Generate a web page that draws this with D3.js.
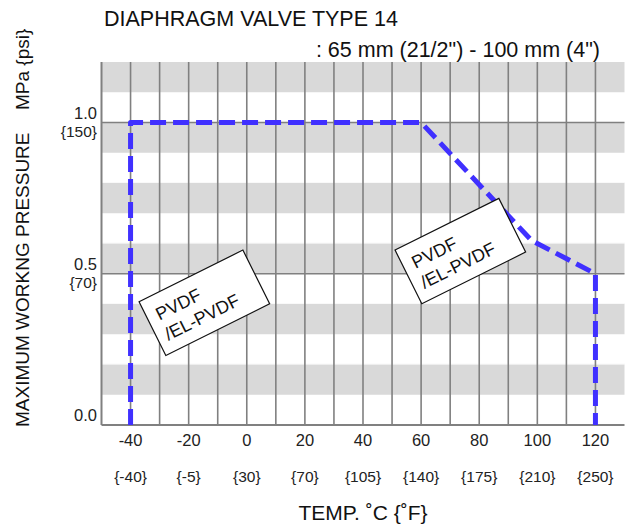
<!DOCTYPE html>
<html>
<head>
<meta charset="utf-8">
<script src="https://cdn.jsdelivr.net/npm/d3@7"></script>
<style>
  html, body { margin: 0; padding: 0; background: #fff; }
  svg { display: block; font-family: "Liberation Sans", Arial, sans-serif; }
</style>
</head>
<body>
<svg id="chart" width="627" height="529"></svg>
<script>
// ---- data ----
const tempTicksC = [-40, -20, 0, 20, 40, 60, 80, 100, 120];
const tempTicksF = ["{-40}", "{-5}", "{30}", "{70}", "{105}", "{140}", "{175}", "{210}", "{250}"];
const tempGrid = [-40, -30, -20, -10, 0, 10, 20, 30, 40, 50, 60, 70, 80, 90, 100, 110, 120];
const pressureTicks = [0.0, 0.5, 1.0];
const pressureTickLabels = ["0.0", "0.5", "1.0"];
const psiTickLabels = ["", "{70}", "{150}"];
const bandStarts = [0.1, 0.3, 0.5, 0.7, 0.9, 1.1];
const dottedEdges = [0.2, 0.4, 0.6, 0.8];
const curveTemp = [-40, -40, 60, 98, 120, 120];
const curvePressure = [0.0, 1.0, 1.0, 0.61, 0.5, 0.0];
const boxTemp = [-14.6, 73.5];
const boxPressure = [0.404, 0.575];
const boxLines = ["PVDF", "/EL-PVDF"];
const titleText = "DIAPHRAGM VALVE TYPE 14";
const subtitleText = ": 65 mm (21/2\") - 100 mm (4\")";
const yTitleMain = "MAXIMUM WORKNG PRESSURE";
const yTitleUnit = "MPa {psi}";
const xTitle = "TEMP. \u02DAC {\u02DAF}";

// ---- layout ----
const svg = d3.select("#chart");
const x = d3.scaleLinear().domain([-50, 130]).range([101.5, 624.5]);
const y = d3.scaleLinear().domain([0, 1.2]).range([425, 62]);

// bands
svg.append("g").selectAll("rect").data(bandStarts).join("rect")
  .attr("x", x(-50)).attr("width", x(130) - x(-50))
  .attr("y", d => y(d + 0.1)).attr("height", d => y(d) - y(d + 0.1))
  .attr("fill", "#d9d9d9");
svg.append("g").selectAll("line").data(dottedEdges).join("line")
  .attr("x1", x(-50)).attr("x2", x(130))
  .attr("y1", d => y(d) - 0.5).attr("y2", d => y(d) - 0.5)
  .attr("stroke", "#f2f2f2").attr("stroke-width", 1).attr("stroke-dasharray", "1 1");

// vertical grid
svg.append("g").selectAll("line").data(tempGrid).join("line")
  .attr("x1", d => x(d)).attr("x2", d => x(d))
  .attr("y1", y(1.2)).attr("y2", y(0))
  .attr("stroke", "#808080").attr("stroke-width", 1.6);

// horizontal grid
svg.append("g").selectAll("line").data([0.5, 1.0]).join("line")
  .attr("x1", x(-50)).attr("x2", x(130))
  .attr("y1", d => y(d)).attr("y2", d => y(d))
  .attr("stroke", "#808080").attr("stroke-width", 1.6);

// axes borders
svg.append("line").attr("x1", x(-50)).attr("x2", x(-50)).attr("y1", y(1.2)).attr("y2", y(0))
  .attr("stroke", "#808080").attr("stroke-width", 2);
svg.append("line").attr("x1", x(-50)).attr("x2", x(130)).attr("y1", y(0)).attr("y2", y(0))
  .attr("stroke", "#808080").attr("stroke-width", 2);

// y tick labels
const yl = svg.append("g").attr("fill", "#222").attr("text-anchor", "end");
pressureTicks.forEach((p, i) => {
  yl.append("text").attr("x", 97).attr("y", y(p) - 4).attr("font-size", 16.5).text(pressureTickLabels[i]);
  if (psiTickLabels[i]) {
    yl.append("text").attr("x", 97).attr("y", y(p) + 14).attr("font-size", 15.5).text(psiTickLabels[i]);
  }
});

// x tick labels
const xl = svg.append("g").attr("fill", "#222").attr("text-anchor", "middle");
tempTicksC.forEach((t, i) => {
  xl.append("text").attr("x", x(t)).attr("y", 446).attr("font-size", 16.5).text(t);
  xl.append("text").attr("x", x(t)).attr("y", 482).attr("font-size", 15.5).text(tempTicksF[i]);
});

// titles
svg.append("text").attr("x", 104).attr("y", 26).attr("font-size", 21.5).attr("fill", "#111").text(titleText);
svg.append("text").attr("x", 600).attr("y", 57).attr("font-size", 21.5).attr("fill", "#111")
  .attr("text-anchor", "end").text(subtitleText);
svg.append("text").attr("x", (x(-50) + x(130)) / 2).attr("y", 520).attr("font-size", 21)
  .attr("fill", "#111").attr("text-anchor", "middle").text(xTitle);
svg.append("text").attr("transform", "translate(29,427) rotate(-90)").attr("font-size", 19)
  .attr("fill", "#111").text(yTitleMain);
svg.append("text").attr("transform", "translate(29,110) rotate(-90)").attr("font-size", 19)
  .attr("fill", "#111").text(yTitleUnit);

// curve
const line = d3.line().x(d => x(d[0])).y(d => y(d[1]));
svg.append("path").datum(curveTemp.map((t, i) => [t, curvePressure[i]]))
  .attr("d", line).attr("fill", "none").attr("stroke", "#4030ff")
  .attr("stroke-width", 5).attr("stroke-dasharray", "16 7").attr("stroke-linejoin", "round");

// label boxes
boxTemp.forEach((t, i) => {
  const g = svg.append("g").attr("transform", `translate(${x(t)},${y(boxPressure[i])}) rotate(-26.5)`);
  g.append("rect").attr("x", -58).attr("y", -30).attr("width", 116).attr("height", 60)
    .attr("fill", "#fff").attr("stroke", "#111").attr("stroke-width", 1.2);
  g.append("text").attr("x", -48).attr("y", -4).attr("font-size", 18).attr("fill", "#111").text(boxLines[0]);
  g.append("text").attr("x", -49).attr("y", 18).attr("font-size", 18).attr("fill", "#111").text(boxLines[1]);
});
</script>
</body>
</html>
